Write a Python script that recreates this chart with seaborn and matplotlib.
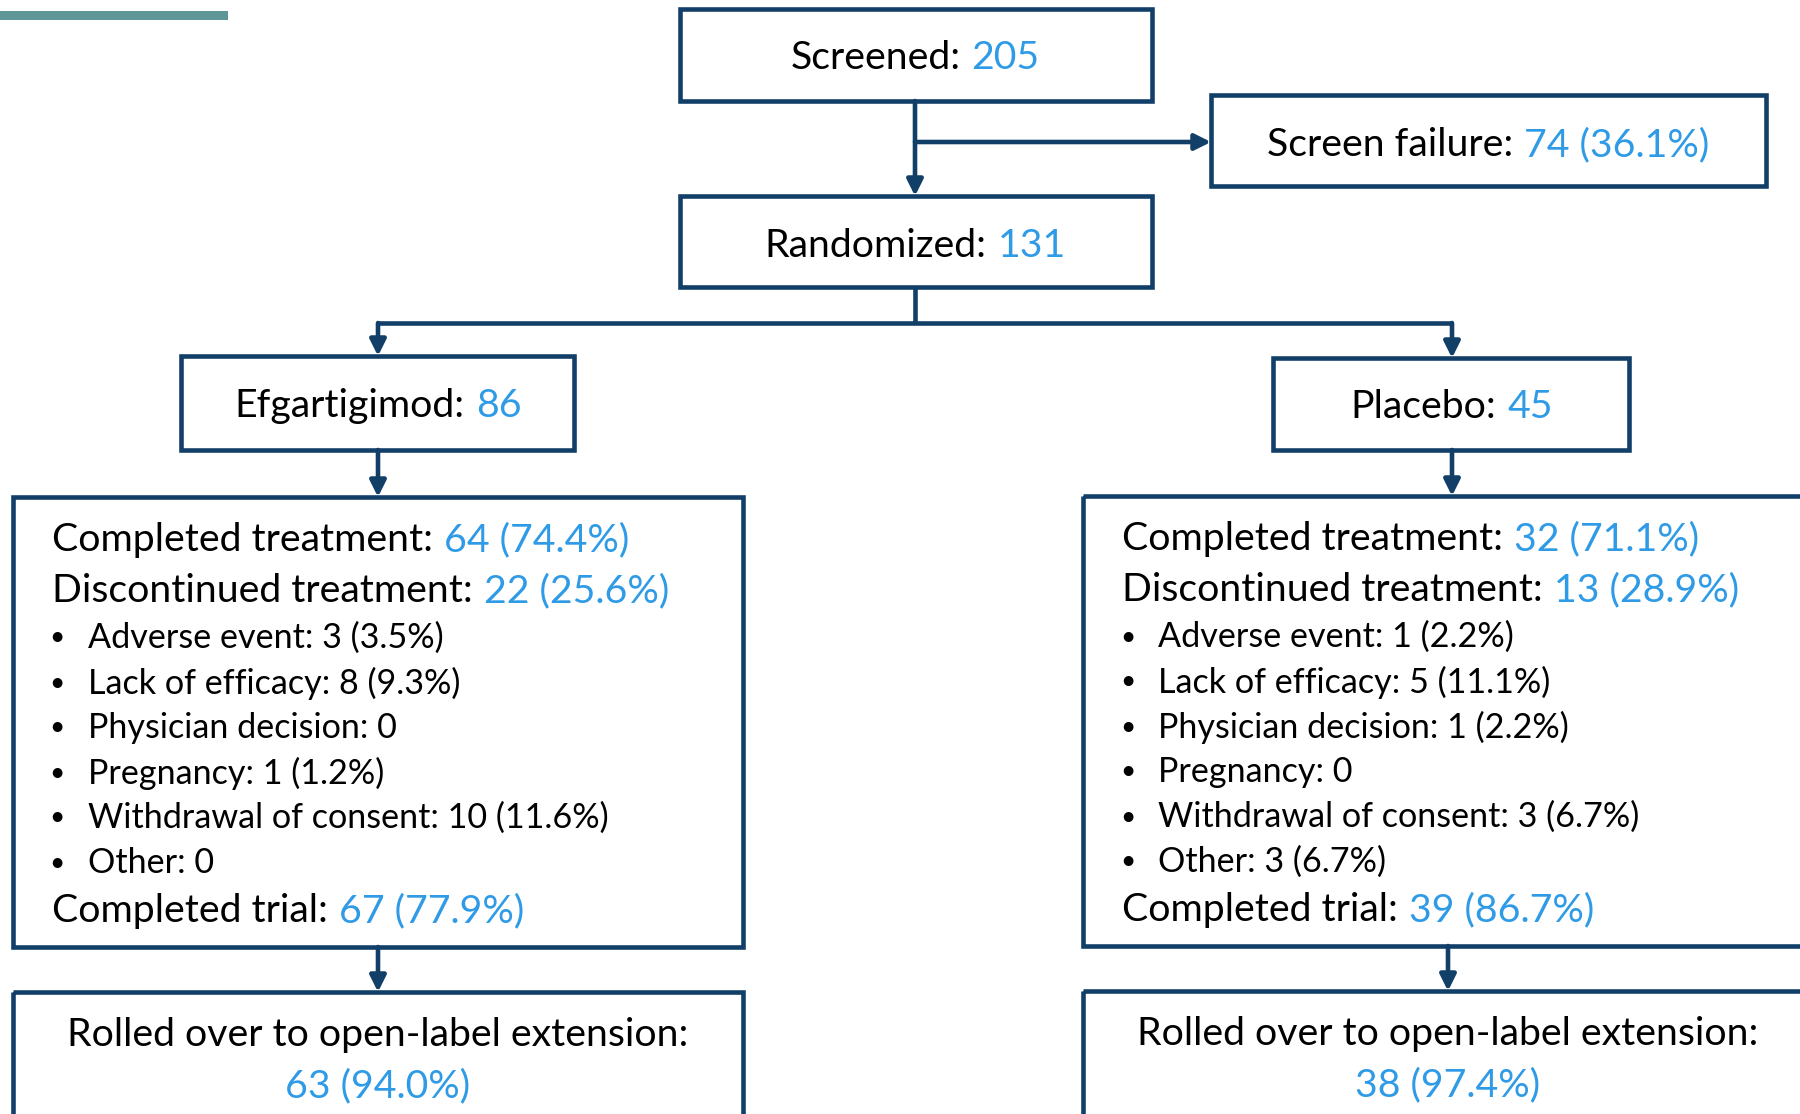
import matplotlib
matplotlib.use("Agg")
import matplotlib.pyplot as plt
import seaborn as sns
from matplotlib.patches import Rectangle
from matplotlib.offsetbox import TextArea, HPacker, AnnotationBbox

# flow counts
screened = "205"
screen_failure = "74 (36.1%)"
randomized = "131"
arms = ["Efgartigimod", "Placebo"]
arm_n = ["86", "45"]
completed_treatment = ["64 (74.4%)", "32 (71.1%)"]
discontinued_treatment = ["22 (25.6%)", "13 (28.9%)"]
reasons = ["Adverse event", "Lack of efficacy", "Physician decision",
           "Pregnancy", "Withdrawal of consent", "Other"]
efg_reasons = ["3 (3.5%)", "8 (9.3%)", "0", "1 (1.2%)", "10 (11.6%)", "0"]
pbo_reasons = ["1 (2.2%)", "5 (11.1%)", "1 (2.2%)", "0", "3 (6.7%)", "3 (6.7%)"]
completed_trial = ["67 (77.9%)", "39 (86.7%)"]
rolled_over = ["63 (94.0%)", "38 (97.4%)"]

sns.set_theme(style="white")
plt.rcParams["font.family"] = ["Lato", "DejaVu Sans"]

NAVY = "#113f68"
BLUE = "#2f9be6"
LW = 3.3
BIG = 28.3
SMALL = 24.6
DY = 3  # small downward nudge for text

fig = plt.figure(figsize=(18, 11.14), dpi=100)
ax = fig.add_axes([0, 0, 1, 1])
ax.set_xlim(0, 1800)
ax.set_ylim(1114, 0)
ax.axis("off")


def box(x0, y0, x1, y1):
    ax.add_patch(Rectangle((x0, y0), x1 - x0, y1 - y0, fill=False, ec=NAVY,
                           lw=LW, joinstyle="miter"))


def label(x, y, parts, size, ha="center"):
    kids = [TextArea(t, textprops=dict(color=c, fontsize=size)) for t, c in parts]
    pack = HPacker(children=kids, sep=size * 0.28, pad=0, align="baseline")
    ab = AnnotationBbox(pack, (x, y + DY), box_alignment=(0.5 if ha == "center" else 0, 0.5),
                        frameon=False, pad=0)
    ax.add_artist(ab)


def arrow(x0, y0, x1, y1):
    ax.annotate("", xy=(x1, y1), xytext=(x0, y0),
                arrowprops=dict(arrowstyle="-|>,head_length=0.6,head_width=0.3",
                                color=NAVY, lw=LW, shrinkA=0, shrinkB=0,
                                mutation_scale=16))


def line(xs, ys):
    ax.plot(xs, ys, color=NAVY, lw=LW, solid_capstyle="butt")


# teal header bar
ax.add_patch(Rectangle((0, 11), 228, 9, color="#5f9798", lw=0))

# top part
box(680, 9, 1152, 101)
label(915, 55, [("Screened:", "black"), (screened, BLUE)], BIG)
box(1211, 95, 1766, 186)
label(1488, 142, [("Screen failure:", "black"), (screen_failure, BLUE)], BIG)
box(680, 196, 1152, 287)
label(915, 243, [("Randomized:", "black"), (randomized, BLUE)], BIG)

arrow(915, 101, 915, 196)
arrow(915, 142, 1211, 142)
line([915, 915], [287, 323])
line([378, 1452], [323, 323])
arrow(378, 323, 378, 356)
arrow(1452, 323, 1452, 358)

# arms
arm_boxes = [(181, 356, 574, 450), (1273, 358, 1629, 450)]
arm_cx = [378, 1452]
big_boxes = [(13, 497, 743, 947), (1083, 496, 1830, 946)]
text_x = [52, 1122]
bullet_x = [57, 1128]
item_x = [88, 1158]
roll_boxes = [(13, 992, 743, 1140), (1083, 991, 1830, 1140)]
roll_cx = [378, 1448]
reason_sets = [efg_reasons, pbo_reasons]

for i in range(2):
    bx = arm_boxes[i]
    box(*bx)
    label(arm_cx[i], (bx[1] + bx[3]) / 2, [(arms[i] + ":", "black"), (arm_n[i], BLUE)], BIG)
    arrow(arm_cx[i], bx[3], arm_cx[i], big_boxes[i][1])

    gb = big_boxes[i]
    box(*gb)
    y0 = gb[1]
    label(text_x[i], y0 + 40, [("Completed treatment:", "black"), (completed_treatment[i], BLUE)], BIG, ha="left")
    label(text_x[i], y0 + 91, [("Discontinued treatment:", "black"), (discontinued_treatment[i], BLUE)], BIG, ha="left")
    for k, (r, v) in enumerate(zip(reasons, reason_sets[i])):
        yy = y0 + 138 + k * 45
        ax.text(bullet_x[i], yy + DY, "\u2022", fontsize=19, color="black", ha="center", va="center")
        label(item_x[i], yy, [(f"{r}: {v}", "black")], SMALL, ha="left")
    label(text_x[i], y0 + 411, [("Completed trial:", "black"), (completed_trial[i], BLUE)], BIG, ha="left")

    arrow(roll_cx[i], gb[3], roll_cx[i], roll_boxes[i][1])
    rb = roll_boxes[i]
    box(*rb)
    label(roll_cx[i], rb[1] + 40, [("Rolled over to open-label extension:", "black")], BIG)
    label(roll_cx[i], rb[1] + 91, [(rolled_over[i], BLUE)], BIG)

fig.savefig("out.png", dpi=100)
